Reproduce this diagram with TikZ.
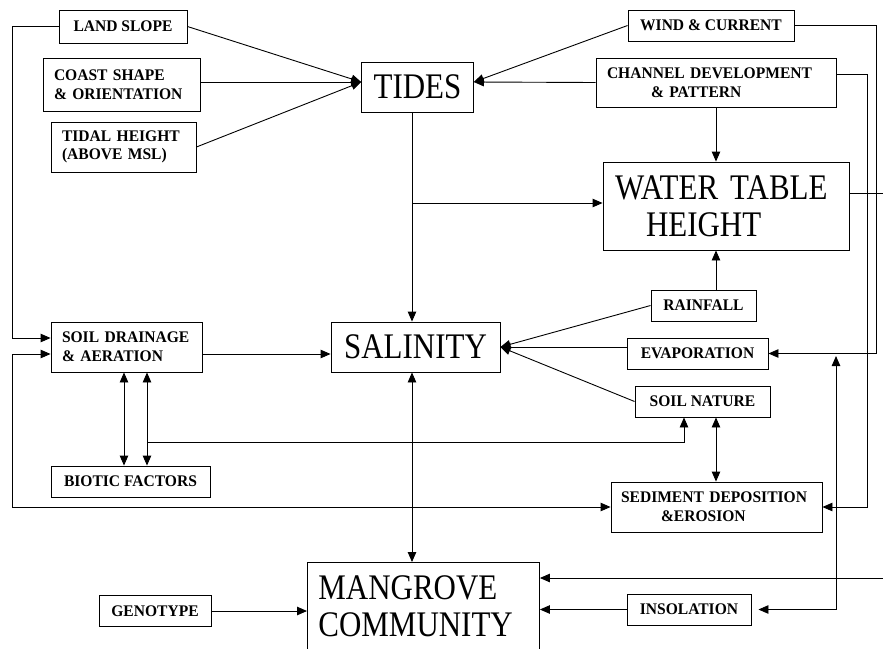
\documentclass[tikz,border=0pt]{standalone}
\usepackage{fontspec}
\setmainfont{Liberation Serif}
\newfontfamily\bigfont[FakeStretch=0.86]{Liberation Serif}
\newfontfamily\smallfont[FakeStretch=0.96]{Liberation Serif}
\usepackage{tikz}
\usetikzlibrary{arrows.meta}
\newcommand{\smallfnt}{\smallfont\bfseries\fontsize{16.2}{18.6}\selectfont}
\newcommand{\bigfnt}{\bigfont\fontsize{36}{37}\selectfont}

\begin{document}
\begin{tikzpicture}[x=1pt,y=-1pt,line width=0.9pt,
    >={Triangle[length=10pt,width=8.5pt]},
    factor/.style={draw,font=\smallfnt,inner xsep=11pt,inner ysep=0pt,align=center},
    result/.style={draw,font=\bigfnt,inner xsep=12pt,inner ysep=0pt,align=center}]
  \useasboundingbox (0,0) rectangle (883,648);
  \clip (0,0) rectangle (883,648);
  % factors, left side
  \node[factor,minimum width=128pt,minimum height=33pt] (land) at (123,26.5) {LAND SLOPE};
  \node[factor,text width=135pt,align=left,minimum height=53pt] (coast) at (121.5,84.5) {COAST SHAPE\\\& ORIENTATION};
  \node[factor,text width=123pt,align=left,minimum height=50pt] (tidal) at (123.5,147) {TIDAL HEIGHT\\(ABOVE MSL)};
  \node[factor,text width=129pt,align=left,minimum height=50pt] (drain) at (126.5,347) {SOIL DRAINAGE\\\& AERATION};
  \node[factor,minimum width=159pt,minimum height=31pt] (biotic) at (130.5,481.5) {BIOTIC FACTORS};
  \node[factor,minimum width=112pt,minimum height=31pt] (geno) at (155,611) {GENOTYPE};
  % factors, right side
  \node[factor,minimum width=166pt,minimum height=31pt] (wind) at (711,25.5) {WIND \& CURRENT};
  \node[factor,text width=218pt,align=left,minimum height=49pt] (chan) at (716,82.5) {CHANNEL DEVELOPMENT\\\hspace*{44pt}\& PATTERN};
  \node[factor,minimum width=105pt,minimum height=31pt] (rain) at (703.5,305.5) {RAINFALL};
  \node[factor,minimum width=141pt,minimum height=31pt] (evap) at (697.5,353.5) {EVAPORATION};
  \node[factor,minimum width=135pt,minimum height=31pt] (soiln) at (702.5,401.5) {SOIL NATURE};
  \node[factor,text width=191pt,inner xsep=10pt,align=left,minimum height=50pt] (sed) at (716.5,507) {SEDIMENT DEPOSITION\\\hspace*{40pt}\&EROSION};
  \node[factor,minimum width=124pt,minimum height=31pt] (insol) at (689,609.5) {INSOLATION};
  % main variables
  \node[result,minimum width=111pt,minimum height=50pt] (tides) at (417.5,87) {TIDES};
  \node[result,text width=222pt,align=left,minimum height=88pt] (water) at (726,206) {WATER TABLE\\\hspace*{31pt}HEIGHT};
  \node[result,minimum width=169pt,minimum height=50pt] (salin) at (415.5,347) {SALINITY};
  \node[result,anchor=north west,text width=210pt,inner xsep=11pt,inner ysep=13.5pt,text depth=62pt,align=left] (mang) at (307,562) {MANGROVE\\COMMUNITY};
  % helper points
  \coordinate (lr) at (12,0);
  \coordinate (cr) at (867,0);
  \coordinate (rr) at (876,0);
  \coordinate (ir) at (836,0);
  \coordinate (er) at (883,0);
  \coordinate (t1) at ([yshift=5pt]tides.west);
  \coordinate (t2) at ([yshift=5pt]tides.east);
  \coordinate (tj) at ([xshift=-5.5pt]tides.south);
  \coordinate (w0) at ([yshift=3pt]water.west);
  \coordinate (w1) at ([yshift=13pt]water.east);
  \coordinate (c1) at ([yshift=8.5pt]chan.east);
  \coordinate (d1) at ([yshift=-7pt]drain.east);
  \coordinate (d2) at ([yshift=9pt]drain.west);
  \coordinate (d3) at ([yshift=-7pt]drain.west);
  \coordinate (b1) at ([xshift=-2.5pt]drain.south);
  \coordinate (b2) at ([xshift=20.5pt]drain.south);
  \coordinate (s1) at ([xshift=-18.5pt]soiln.south);
  \coordinate (s2) at ([yshift=-25pt]s1);
  \coordinate (m0) at ([xshift=-3.5pt]salin.south);
  \coordinate (m2) at (883,578);
  % into tides
  \draw[->] (land.east) -- (t1);
  \draw[->] ([yshift=2.5pt]coast.east) -- (t1);
  \draw[->] (tidal.east) -- (t1);
  \draw[->] (wind.west) -- (t2);
  \draw[->] (chan.west) -- (t2);
  % water table
  \draw[->] (chan.south) -- (chan.south |- water.north);
  \draw[->] (rain.north -| chan.south) -- (water.south -| chan.south);
  \draw[->] (tj |- w0) -- (w0);
  \draw (w1) -- (w1 -| er);
  % into salinity
  \draw[->] (tj) -- (tj |- salin.north);
  \draw[->] (rain.west) -- (salin.east);
  \draw[->] (evap.west |- salin.east) -- (salin.east);
  \draw[->] (soiln.west) -- (salin.east);
  \draw[->] (d1) -- (d1 -| salin.west);
  % soil drainage loops
  \draw[->] (land.west) -- (land.west -| lr) |- (d2);
  \draw[<->] (d3) -| (lr |- sed.west) -- (sed.west);
  \draw[<->] (b1) -- (b1 |- biotic.north);
  \draw[<->] (b2) -- (b2 |- biotic.north);
  \draw[->] (b2 |- s2) -- (s2) -- (s1);
  \draw[<->] (soiln.south -| chan.south) -- (sed.north -| chan.south);
  % right side rails
  \draw[->] (wind.east) -- (wind.east -| rr) |- (evap.east);
  \draw[->] (c1) -- (c1 -| cr) |- (sed.east);
  \draw[<->,shorten <=7pt,shorten >=2.5pt] (insol.east) -| (ir |- evap.east);
  % into mangrove community
  \draw[<->] (m0) -- (m0 |- mang.north);
  \draw[->] (m2) -- (m2 -| mang.east);
  \draw[->] (insol.west) -- (insol.west -| mang.east);
  \draw[->] (geno.east) -- (geno.east -| mang.west);
\end{tikzpicture}
\end{document}
